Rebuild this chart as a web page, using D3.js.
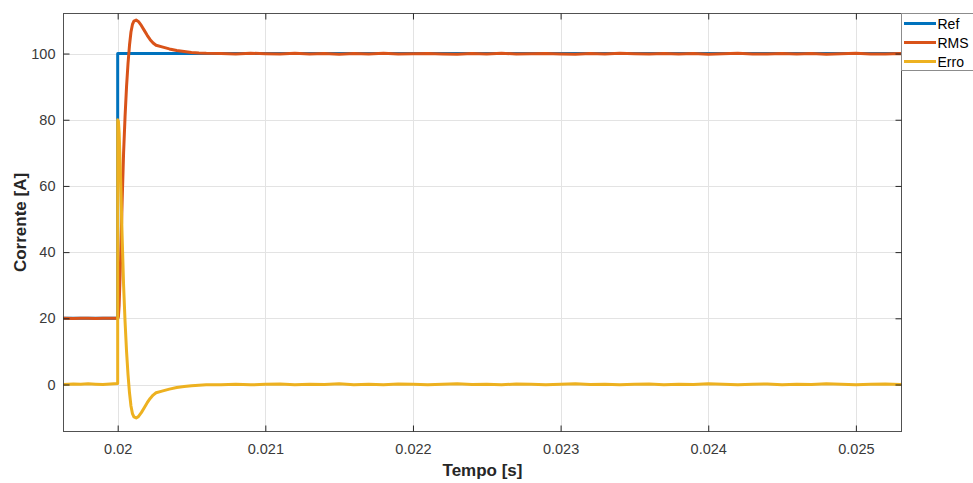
<!DOCTYPE html>
<html>
<head>
<meta charset="utf-8">
<script src="https://cdn.jsdelivr.net/npm/d3@7"></script>
<style>
  body { margin: 0; background: #fff; }
  svg { display: block; font-family: "Liberation Sans", Arial, sans-serif; }
</style>
</head>
<body>
<svg id="chart" width="973" height="483"></svg>
<script>
// Simulation time [s]; 0.02 appears twice to draw the reference step
const tempo = [
  0.019633, 0.0197, 0.01975, 0.0198, 0.01985, 0.0199, 0.01995, 0.02,
  0.02, 0.020005, 0.02001, 0.02002, 0.02003, 0.02004, 0.02005, 0.02006,
  0.02007, 0.02008, 0.02009, 0.0201, 0.02011, 0.020125, 0.02014, 0.02016,
  0.02018, 0.0202, 0.02022, 0.02024, 0.02026, 0.0203, 0.02035, 0.0204,
  0.02045, 0.0205, 0.02055, 0.0206,
  0.0207, 0.0208, 0.0209, 0.021, 0.0211, 0.0212, 0.0213, 0.0214, 0.0215,
  0.0216, 0.0217, 0.0218, 0.0219, 0.022, 0.0221, 0.0222, 0.0223, 0.0224,
  0.0225, 0.0226, 0.0227, 0.0228, 0.0229, 0.023, 0.0231, 0.0232, 0.0233,
  0.0234, 0.0235, 0.0236, 0.0237, 0.0238, 0.0239, 0.024, 0.0241, 0.0242,
  0.0243, 0.0244, 0.0245, 0.0246, 0.0247, 0.0248, 0.0249, 0.025, 0.0251,
  0.0252, 0.0253, 0.025309
];

// Current reference [A]
const ref = [
  20, 20, 20, 20, 20, 20, 20, 20,
  100, 100, 100, 100, 100, 100, 100, 100,
  100, 100, 100, 100, 100, 100, 100, 100,
  100, 100, 100, 100, 100, 100, 100, 100,
  100, 100, 100, 100,
  100, 100, 100, 100, 100, 100, 100, 100, 100,
  100, 100, 100, 100, 100, 100, 100, 100, 100,
  100, 100, 100, 100, 100, 100, 100, 100, 100,
  100, 100, 100, 100, 100, 100, 100, 100, 100,
  100, 100, 100, 100, 100, 100, 100, 100, 100,
  100, 100, 100
];

// Measured RMS current [A]
const rms = [
  20.05, 19.95, 20.0, 20.05, 19.95, 20.0, 20.05, 20.0,
  20.0, 20.5, 24, 38, 55, 70, 81, 90,
  97, 102.5, 106.5, 108.8, 109.8, 110.1, 109.7, 108.5,
  107, 105.5, 104.2, 103.2, 102.5, 102.0, 101.4, 100.9,
  100.6, 100.35, 100.2, 100.1,
  100.05, 99.9, 100.1, 99.95, 99.85, 100.1, 99.9, 100.0, 99.8,
  100.05, 99.9, 100.1, 99.85, 99.95, 100.05, 99.9, 99.8, 100.0,
  99.9, 100.1, 99.85, 99.95, 100.05, 99.9, 99.8, 100.0, 99.9,
  100.1, 99.95, 99.85, 100.05, 99.9, 100.0, 99.8, 99.95, 100.1,
  99.9, 99.85, 100.05, 99.9, 100.0, 99.8, 99.95, 100.1, 99.9,
  99.85, 100.0, 99.95
];

// Control error [A]
const erro = [
  0.0, 0.15, 0.05, 0.2, 0.1, 0.0, 0.15, 0.3,
  80, 79.5, 76, 62, 45, 30, 19, 10,
  3, -2.5, -6.5, -8.8, -9.8, -10.1, -9.7, -8.5,
  -7, -5.5, -4.2, -3.2, -2.5, -2.0, -1.4, -0.9,
  -0.6, -0.35, -0.2, -0.1,
  -0.05, 0.1, -0.1, 0.05, 0.15, -0.1, 0.1, 0.0, 0.2,
  -0.05, 0.1, -0.1, 0.15, 0.05, -0.05, 0.1, 0.2, 0.0,
  0.1, -0.1, 0.15, 0.05, -0.05, 0.1, 0.2, 0.0, 0.1,
  -0.1, 0.05, 0.15, -0.05, 0.1, 0.0, 0.2, 0.05, -0.1,
  0.1, 0.15, -0.05, 0.1, 0.0, 0.2, 0.05, -0.1, 0.1,
  0.15, 0.0, 0.05
];

const xTicks = [0.02, 0.021, 0.022, 0.023, 0.024, 0.025];
const yTicks = [0, 20, 40, 60, 80, 100];

const series = [
  { name: "Ref", values: ref, color: "#0072BD" },
  { name: "RMS", values: rms, color: "#D95319" },
  { name: "Erro", values: erro, color: "#EDB120" }
];

const svg = d3.select("#chart");
const m = { left: 63.5, right: 901.5, top: 13.5, bottom: 431.5 };

const x = d3.scaleLinear().domain([0.019633, 0.025309]).range([m.left, m.right]);
const y = d3.scaleLinear().domain([-14.2, 112.1]).range([m.bottom, m.top]);

const axisColor = "#262626";
const labelColor = "#3a3a3a";

// grid
const grid = svg.append("g");
grid.selectAll(".gx").data(xTicks).enter().append("line")
  .attr("x1", d => Math.round(x(d)) + 0.5).attr("x2", d => Math.round(x(d)) + 0.5)
  .attr("y1", m.top).attr("y2", m.bottom)
  .attr("stroke", "#e3e3e3").attr("stroke-width", 1);
grid.selectAll(".gy").data(yTicks).enter().append("line")
  .attr("y1", d => Math.round(y(d)) + 0.5).attr("y2", d => Math.round(y(d)) + 0.5)
  .attr("x1", m.left).attr("x2", m.right)
  .attr("stroke", "#e3e3e3").attr("stroke-width", 1);

// data lines
svg.append("clipPath").attr("id", "plotClip").append("rect")
  .attr("x", m.left).attr("y", m.top).attr("width", m.right - m.left).attr("height", m.bottom - m.top);

const line = d3.line().x((d, i) => x(tempo[i])).y(d => y(d));
const plot = svg.append("g").attr("clip-path", "url(#plotClip)");
series.forEach(s => {
  plot.append("path")
    .datum(s.values)
    .attr("d", line)
    .attr("fill", "none")
    .attr("stroke", s.color)
    .attr("stroke-width", 3)
    .attr("stroke-linejoin", "round")
    .attr("stroke-linecap", "round");
});

// axes (ticks inside, box all round)
const tickLen = 6;
const xAxisB = d3.axisBottom(x).tickValues(xTicks).tickSize(-tickLen).tickPadding(12)
  .tickFormat(d3.format("")).tickSizeOuter(0);
const xAxisT = d3.axisTop(x).tickValues(xTicks).tickSize(-tickLen).tickFormat("").tickSizeOuter(0);
const yAxisL = d3.axisLeft(y).tickValues(yTicks).tickSize(-tickLen).tickPadding(8).tickSizeOuter(0);
const yAxisR = d3.axisRight(y).tickValues(yTicks).tickSize(-tickLen).tickFormat("").tickSizeOuter(0);

function styleAxis(g) {
  g.select(".domain").remove();
  g.selectAll(".tick line").attr("stroke", axisColor);
  g.selectAll(".tick text").attr("fill", labelColor).style("font-size", "14.5px")
    .style("font-family", "'Liberation Sans', Arial, sans-serif");
}
svg.append("g").attr("transform", `translate(0,${m.bottom})`).call(xAxisB).call(styleAxis);
svg.append("g").attr("transform", `translate(0,${m.top})`).call(xAxisT).call(styleAxis);
svg.append("g").attr("transform", `translate(${m.left},0)`).call(yAxisL).call(styleAxis);
svg.append("g").attr("transform", `translate(${m.right},0)`).call(yAxisR).call(styleAxis);

svg.append("rect")
  .attr("x", m.left).attr("y", m.top)
  .attr("width", m.right - m.left).attr("height", m.bottom - m.top)
  .attr("fill", "none").attr("stroke", axisColor).attr("stroke-width", 1).attr("opacity", 0.8);

// axis titles
svg.append("text")
  .attr("x", (m.left + m.right) / 2).attr("y", 476)
  .attr("text-anchor", "middle")
  .style("font-size", "17px").style("font-weight", "bold").attr("fill", axisColor)
  .text("Tempo [s]");
svg.append("text")
  .attr("transform", `translate(26,${(m.top + m.bottom) / 2}) rotate(-90)`)
  .attr("text-anchor", "middle")
  .style("font-size", "17px").style("font-weight", "bold").attr("fill", axisColor)
  .text("Corrente [A]");

// legend
const lg = svg.append("g");
lg.append("rect")
  .attr("x", 901.5).attr("y", 13.5).attr("width", 80).attr("height", 57)
  .attr("fill", "#fff").attr("stroke", "#8c8c8c").attr("stroke-width", 1);
series.forEach((s, i) => {
  const yy = 23.5 + i * 19;
  lg.append("line")
    .attr("x1", 904).attr("x2", 936).attr("y1", yy).attr("y2", yy)
    .attr("stroke", s.color).attr("stroke-width", 3);
  lg.append("text")
    .attr("x", 937.5).attr("y", yy + 5)
    .style("font-size", "14px").attr("fill", "#000")
    .text(s.name);
});
</script>
</body>
</html>
